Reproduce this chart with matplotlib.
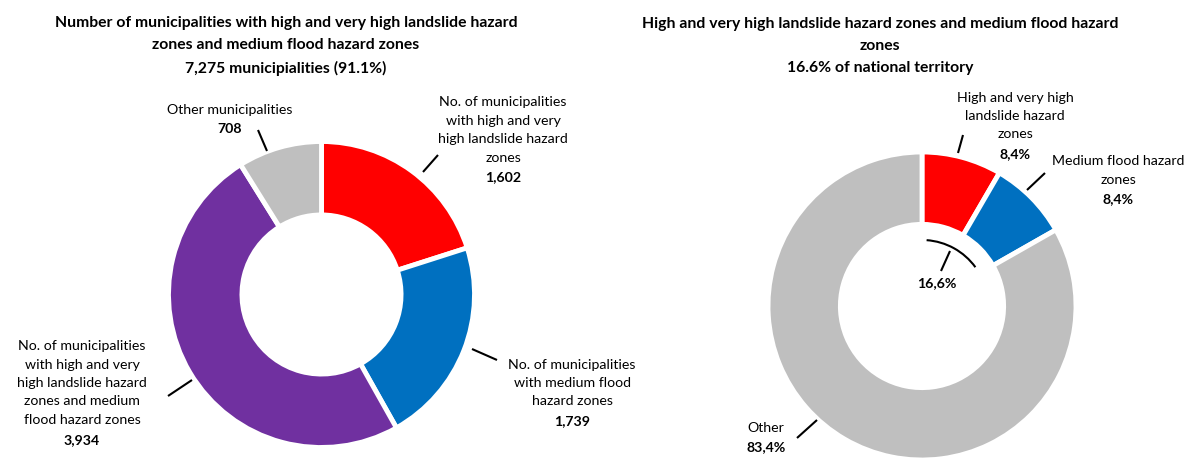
import numpy as np
import matplotlib
matplotlib.use("Agg")
import matplotlib.pyplot as plt
from matplotlib.patches import Arc

plt.rcParams['font.family'] = ['Lato', 'DejaVu Sans']

# Data
mun_labels = ["No. of municipalities\nwith high and very\nhigh landslide hazard\nzones",
              "No. of municipalities\nwith medium flood\nhazard zones",
              "No. of municipalities\nwith high and very\nhigh landslide hazard\nzones and medium\nflood hazard zones",
              "Other municipalities"]
mun_values = [1602, 1739, 3934, 708]
mun_colors = ["#FF0000", "#0070C0", "#7030A0", "#BFBFBF"]

terr_labels = ["High and very high\nlandslide hazard\nzones", "Medium flood hazard\nzones", "Other"]
terr_values = [8.4, 8.4, 83.4]
terr_colors = ["#FF0000", "#0070C0", "#BFBFBF"]
terr_total = 16.6

W, H = 1201, 458
fig = plt.figure(figsize=(W / 100, H / 100), dpi=100)
ax = fig.add_axes([0, 0, 1, 1])


def Y(py):
    return H - py


# left donut
cx1, cy1, r1 = 321.5, 294.5, 153
ax.pie(mun_values, colors=mun_colors, startangle=90, counterclock=False,
       center=(cx1, Y(cy1)), radius=r1, frame=True,
       wedgeprops=dict(width=r1 * 0.48, edgecolor='white', linewidth=3.5))

# right donut
cx2, cy2, r2 = 922, 306, 154
ax.pie(terr_values, colors=terr_colors, startangle=90, counterclock=False,
       center=(cx2, Y(cy2)), radius=r2, frame=True,
       wedgeprops=dict(width=r2 * 0.47, edgecolor='white', linewidth=3.5))
ax.set_xlim(0, W)
ax.set_ylim(0, H)
ax.set_aspect('equal')
ax.axis('off')

fs = 10.2
tfs = 11.3

# titles
ax.text(286, Y(46), "Number of municipalities with high and very high landslide hazard\n"
        "zones and medium flood hazard zones\n7,275 municipialities (91.1%)",
        ha='center', va='center', fontsize=tfs, fontweight='bold', linespacing=1.72)
ax.text(880, Y(46), "High and very high landslide hazard zones and medium flood hazard\n"
        "zones\n16.6% of national territory",
        ha='center', va='center', fontsize=tfs, fontweight='bold', linespacing=1.72)


def label(x, ymid, name, value, ha='center'):
    n = name.count("\n") + 1
    step = 19
    ax.text(x, Y(ymid), name, ha=ha, va='center', fontsize=fs, linespacing=1.64)
    # value goes one line below the name block
    ax.text(x, Y(ymid + step * (n + 1) / 2), value, ha=ha, va='center',
            fontsize=fs, fontweight='bold')


def leader(p0, p1):
    ax.plot([p0[0], p1[0]], [Y(p0[1]), Y(p1[1])], color='black', lw=1.5,
            solid_capstyle='butt')


# left labels
label(503, 130, mun_labels[0], f"{mun_values[0]:,}")
label(572, 383, mun_labels[1], f"{mun_values[1]:,}")
label(82, 383, mun_labels[2], f"{mun_values[2]:,}")
label(230, 110, mun_labels[3], f"{mun_values[3]:,}")
leader((438, 155), (423, 172))
leader((472, 349), (497, 360))
leader((168, 396), (192, 380))
leader((258, 130), (267, 151))

# right labels
label(1015, 116, terr_labels[0], f"{terr_values[0]:.1f}%".replace('.', ','))
label(1118, 170.5, terr_labels[1], f"{terr_values[1]:.1f}%".replace('.', ','))
label(766, 428, terr_labels[2], f"{terr_values[2]:.1f}%".replace('.', ','))
leader((963, 135), (958, 153))
leader((1045, 173), (1027, 190))
leader((797, 438), (817, 420))

# inner arc for combined share
arc = Arc((cx2, Y(cy2)), 132, 132, theta1=36, theta2=86, color='black', lw=1.5)
ax.add_patch(arc)
leader((950, 251), (941, 271))
ax.text(937, Y(283), f"{terr_total:.1f}%".replace('.', ','), ha='center', va='center',
        fontsize=fs, fontweight='bold')

fig.savefig("out.png", dpi=100)
